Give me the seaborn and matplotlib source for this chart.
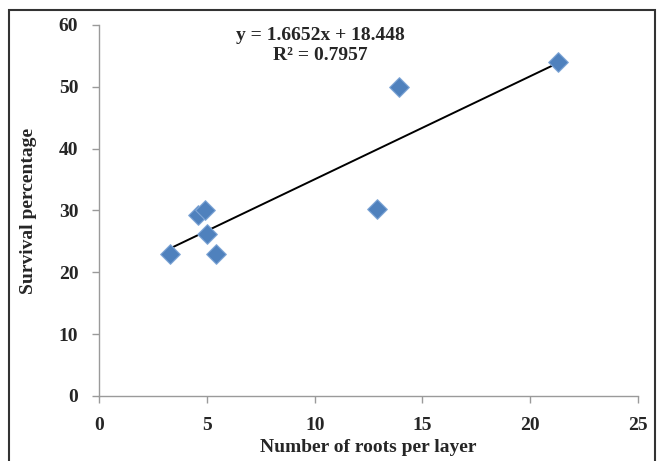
import numpy as np
import pandas as pd
import matplotlib
matplotlib.use('Agg')
import matplotlib.pyplot as plt
import seaborn as sns
from matplotlib.patches import Rectangle

roots = [3.3, 4.6, 4.9, 5.0, 5.4, 12.9, 13.9, 21.3]
survival = [23.0, 29.3, 30.0, 26.2, 23.0, 30.3, 50.0, 54.0]
x_ticks = [0, 5, 10, 15, 20, 25]
y_ticks = [0, 10, 20, 30, 40, 50, 60]

df = pd.DataFrame({'roots': roots, 'survival': survival})

sns.set_style('white')
plt.rcParams['font.family'] = ['Liberation Serif', 'DejaVu Serif']
plt.rcParams['font.weight'] = 'bold'

fig = plt.figure(figsize=(6.57, 4.61), dpi=100)
ax = fig.add_axes([0.151, 0.141, 0.82, 0.805])

sns.regplot(data=df, x='roots', y='survival', ax=ax, ci=None, marker='D',
            scatter_kws={'s': 100, 'color': '#4F81BD', 'edgecolor': '#7FA6D6',
                         'linewidths': 0.8, 'alpha': 1, 'zorder': 3},
            line_kws={'color': 'black', 'lw': 1.4, 'zorder': 2})

ax.set_xlim(0, 25)
ax.set_ylim(0, 60)
ax.set_xticks(x_ticks)
ax.set_yticks(y_ticks)
ax.tick_params(axis='both', labelsize=14, length=5, width=1, color='#9a9a9a',
               direction='out', left=True, bottom=True)
ax.tick_params(axis='y', pad=10)
ax.tick_params(axis='x', pad=10)
for lab in ax.get_xticklabels() + ax.get_yticklabels():
    lab.set_fontweight('bold')

for s in ['top', 'right']:
    ax.spines[s].set_visible(False)
for s in ['left', 'bottom']:
    ax.spines[s].set_color('#9a9a9a')
    ax.spines[s].set_linewidth(1)

ax.set_xlabel('Number of roots per layer', fontsize=14, fontweight='bold', labelpad=4)
ax.set_ylabel('Survival percentage', fontsize=14, fontweight='bold', labelpad=16)

ax.text(0.41, 0.995, 'y = 1.6652x + 18.448\nR² = 0.7957', transform=ax.transAxes,
        ha='center', va='top', fontsize=14, fontweight='bold', linespacing=1.25)

fig.patches.append(Rectangle((9 / 657, -0.05), 646 / 657, 1.05 - 10 / 461,
                             transform=fig.transFigure, fill=False,
                             edgecolor='#333333', lw=1.5, clip_on=False))

fig.savefig('out.png', dpi=100)
